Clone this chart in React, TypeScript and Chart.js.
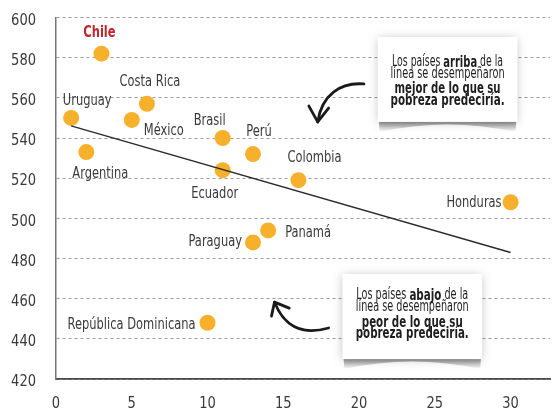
import React, { useEffect, useRef } from "react";
import { Chart, registerables } from "chart.js";

Chart.register(...registerables);

// ---------- data ----------
const countries = [
  "Chile", "Uruguay", "Costa Rica", "México", "Argentina", "Brasil", "Ecuador",
  "Perú", "Colombia", "Honduras", "Panamá", "Paraguay", "República Dominicana",
];
const povertyX = [3, 1, 6, 5, 2, 11, 11, 13, 16, 30, 14, 13, 10];
const scoreY = [582, 550, 557, 549, 533, 540, 524, 532, 519, 508, 494, 488, 448];
const trendX = [1, 30];
const trendY = [546, 483];
const xTickValues = [0, 5, 10, 15, 20, 25, 30];
const yTickValues = [420, 440, 460, 480, 500, 520, 540, 560, 580, 600];

const calloutAbove = [
  [["Los países ", false], ["arriba", true], [" de la", false]],
  [["línea se desempeñaron", false]],
  [["mejor de lo que su", true]],
  [["pobreza predeciría.", true]],
];
const calloutBelow = [
  [["Los países ", false], ["abajo", true], [" de la", false]],
  [["línea se desempeñaron", false]],
  [["peor de lo que su", true]],
  [["pobreza predeciría.", true]],
];

// ---------- layout / style (not data) ----------
const FONT = "'Liberation Sans Narrow','DejaVu Sans Condensed','Arial Narrow',sans-serif";
const DOT = "#F6B02C";
const TEXT = "#3a3a3a";
const labelPlacement: { align: CanvasTextAlign; dx: number; dy: number }[] = [
  { align: "center", dx: -2, dy: -21 },
  { align: "center", dx: 16, dy: -17 },
  { align: "center", dx: 3, dy: -22 },
  { align: "left", dx: 12, dy: 11 },
  { align: "center", dx: 14, dy: 22 },
  { align: "center", dx: -13, dy: -17 },
  { align: "center", dx: -8, dy: 24 },
  { align: "center", dx: 6, dy: -22 },
  { align: "center", dx: 16, dy: -22 },
  { align: "right", dx: -9, dy: 1 },
  { align: "left", dx: 17, dy: 3 },
  { align: "right", dx: -11, dy: 0 },
  { align: "right", dx: -12, dy: 2 },
];

const boxes = [
  { x0: 21.23, x1: 30.45, y0: 590.3, y1: 548.0, lines: calloutAbove, widths: [111, 114, 106, 114], offs: [-17, -5, 9, 21] },
  { x0: 18.9, x1: 28.12, y0: 472.3, y1: 429.9, lines: calloutBelow, widths: [112, 113, 101, 113], offs: [-21, -9, 6, 17] },
];

const arrows = [
  {
    pts: [[20.32, 566.9], [18.77, 567.9], [17.53, 561.4], [17.27, 548.0]],
    arms: [[16.69, 555.9], [17.99, 554.9]],
  },
  {
    pts: [[17.99, 445.4], [16.17, 441.4], [15.0, 446.9], [14.42, 458.3]],
    arms: [[14.22, 451.3], [15.39, 455.3]],
  },
];

function drawScaled(ctx: CanvasRenderingContext2D, text: string, x: number, y: number, align: CanvasTextAlign, sx: number) {
  ctx.save();
  ctx.translate(x, y);
  ctx.scale(sx, 1);
  ctx.textAlign = align;
  ctx.fillText(text, 0, 0);
  ctx.restore();
}

function drawRich(ctx: CanvasRenderingContext2D, segs: any[], cx: number, cy: number, target: number) {
  const fontFor = (b: boolean) => `${b ? "bold 16px" : "15px"} ${FONT}`;
  let total = 0;
  const ws: number[] = [];
  for (const [t, b] of segs) {
    ctx.font = fontFor(b);
    const w = ctx.measureText(t).width;
    ws.push(w);
    total += w;
  }
  const s = target / total;
  ctx.save();
  ctx.translate(cx, cy);
  ctx.scale(s, 1);
  ctx.textBaseline = "middle";
  ctx.textAlign = "left";
  ctx.fillStyle = "#1e1e1e";
  let x = -total / 2;
  segs.forEach(([t, b]: any, i: number) => {
    ctx.font = fontFor(b);
    ctx.fillText(t, x, 0);
    x += ws[i];
  });
  ctx.restore();
}

const overlayPlugin = {
  id: "overlay",
  afterDatasetsDraw(chart: any) {
    const ctx: CanvasRenderingContext2D = chart.ctx;
    const xs = chart.scales.x;
    const ys = chart.scales.y;
    const area = chart.chartArea;

    // tick labels (condensed)
    ctx.save();
    ctx.fillStyle = TEXT;
    ctx.textBaseline = "middle";
    ctx.font = `16.5px ${FONT}`;
    ys.ticks.forEach((t: any) => {
      drawScaled(ctx, String(t.value), area.left - 20, ys.getPixelForValue(t.value) + 3, "right", 0.88);
    });
    xs.ticks.forEach((t: any) => {
      drawScaled(ctx, String(t.value), xs.getPixelForValue(t.value), area.bottom + 25, "center", 0.88);
    });
    ctx.restore();

    // point labels
    ctx.save();
    ctx.textBaseline = "middle";
    countries.forEach((name, i) => {
      const p = labelPlacement[i];
      const px = xs.getPixelForValue(povertyX[i]);
      const py = ys.getPixelForValue(scoreY[i]);
      const isChile = name === "Chile";
      ctx.font = `${isChile ? "bold " : ""}15px ${FONT}`;
      ctx.fillStyle = isChile ? "#C0262C" : TEXT;
      drawScaled(ctx, name, px + p.dx, py + p.dy, p.align, 0.85);
    });
    ctx.restore();

    // callout boxes
    boxes.forEach((b) => {
      const x = xs.getPixelForValue(b.x0);
      const x2 = xs.getPixelForValue(b.x1);
      const y = ys.getPixelForValue(b.y0);
      const y2 = ys.getPixelForValue(b.y1);
      const w = x2 - x;
      const h = y2 - y;
      ctx.save();
      const sh = 10;
      const g = ctx.createLinearGradient(0, y2, 0, y2 + sh);
      g.addColorStop(0, "rgba(0,0,0,0.42)");
      g.addColorStop(1, "rgba(0,0,0,0)");
      ctx.fillStyle = g;
      ctx.beginPath();
      ctx.moveTo(x + 1, y2 - 2);
      ctx.lineTo(x2 - 1, y2 - 2);
      ctx.lineTo(x2 - 2, y2 + sh);
      ctx.quadraticCurveTo(x + w / 2, y2 - 5, x + 2, y2 + sh);
      ctx.closePath();
      ctx.fill();
      ctx.shadowColor = "rgba(0,0,0,0.25)";
      ctx.shadowBlur = 9;
      ctx.shadowOffsetY = 1;
      ctx.fillStyle = "#ffffff";
      ctx.fillRect(x, y, w, h);
      ctx.restore();
      const cx = x + w / 2;
      const cy = y + h / 2;
      b.lines.forEach((segs, i) => {
        drawRich(ctx, segs, cx, cy + b.offs[i], b.widths[i]);
      });
    });

    // arrows
    arrows.forEach((a) => {
      const P = a.pts.map(([vx, vy]) => [xs.getPixelForValue(vx), ys.getPixelForValue(vy)]);
      const A = a.arms.map(([vx, vy]) => [xs.getPixelForValue(vx), ys.getPixelForValue(vy)]);
      ctx.save();
      ctx.strokeStyle = "#1a1a1a";
      ctx.lineWidth = 2.8;
      ctx.lineCap = "round";
      ctx.lineJoin = "round";
      ctx.beginPath();
      ctx.moveTo(P[0][0], P[0][1]);
      ctx.bezierCurveTo(P[1][0], P[1][1], P[2][0], P[2][1], P[3][0], P[3][1]);
      ctx.stroke();
      ctx.beginPath();
      ctx.moveTo(A[0][0], A[0][1]);
      ctx.lineTo(P[3][0], P[3][1]);
      ctx.lineTo(A[1][0], A[1][1]);
      ctx.stroke();
      ctx.restore();
    });
  },
};

export default function App() {
  const ref = useRef<HTMLCanvasElement>(null);
  useEffect(() => {
    document.body.style.margin = "0";
    const canvas = ref.current!;
    const chart = new Chart(canvas, {
      type: "scatter",
      data: {
        datasets: [
          {
            type: "line",
            data: trendX.map((x, i) => ({ x, y: trendY[i] })),
            borderColor: "#2b2b2b",
            borderWidth: 1.4,
            pointRadius: 0,
            fill: false,
            order: 0,
          } as any,
          {
            data: povertyX.map((x, i) => ({ x, y: scoreY[i] })),
            backgroundColor: DOT,
            borderWidth: 0,
            pointRadius: 8,
            order: 1,
          },
        ],
      },
      options: {
        responsive: false,
        animation: false,
        events: [],
        layout: { padding: { top: 17.5, right: 0, left: 0, bottom: 0 } },
        plugins: { legend: { display: false }, tooltip: { enabled: false } },
        scales: {
          x: {
            type: "linear",
            min: 0,
            max: 32.6,
            afterBuildTicks: (s: any) => {
              s.ticks = xTickValues.map((v) => ({ value: v }));
            },
            afterFit: (s: any) => {
              s.height = 33;
              s.paddingLeft = 0;
              s.paddingRight = 0;
            },
            grid: { display: false, drawTicks: false },
            border: { display: true, color: "#4a4a4a", width: 1.8 },
            ticks: {
              padding: 13,
              color: "rgba(0,0,0,0)",
              font: { family: FONT, size: 16 },
              maxRotation: 0,
            },
          },
          y: {
            type: "linear",
            min: 420,
            max: 600,
            afterBuildTicks: (s: any) => {
              s.ticks = yTickValues.map((v) => ({ value: v }));
            },
            afterFit: (s: any) => {
              s.width = 56;
              s.paddingTop = 0;
              s.paddingBottom = 0;
            },
            grid: { color: "#9a9a9a", lineWidth: 1, drawTicks: false },
            border: { display: true, color: "#777", width: 1.5, dash: [3, 3] },
            ticks: {
              padding: 20,
              color: "rgba(0,0,0,0)",
              font: { family: FONT, size: 16 },
            },
          },
        },
      },
      plugins: [overlayPlugin],
    });
    return () => chart.destroy();
  }, []);
  return (
    <div style={{ width: 558, height: 412, background: "#fff" }}>
      <canvas ref={ref} width={558} height={412} />
    </div>
  );
}
